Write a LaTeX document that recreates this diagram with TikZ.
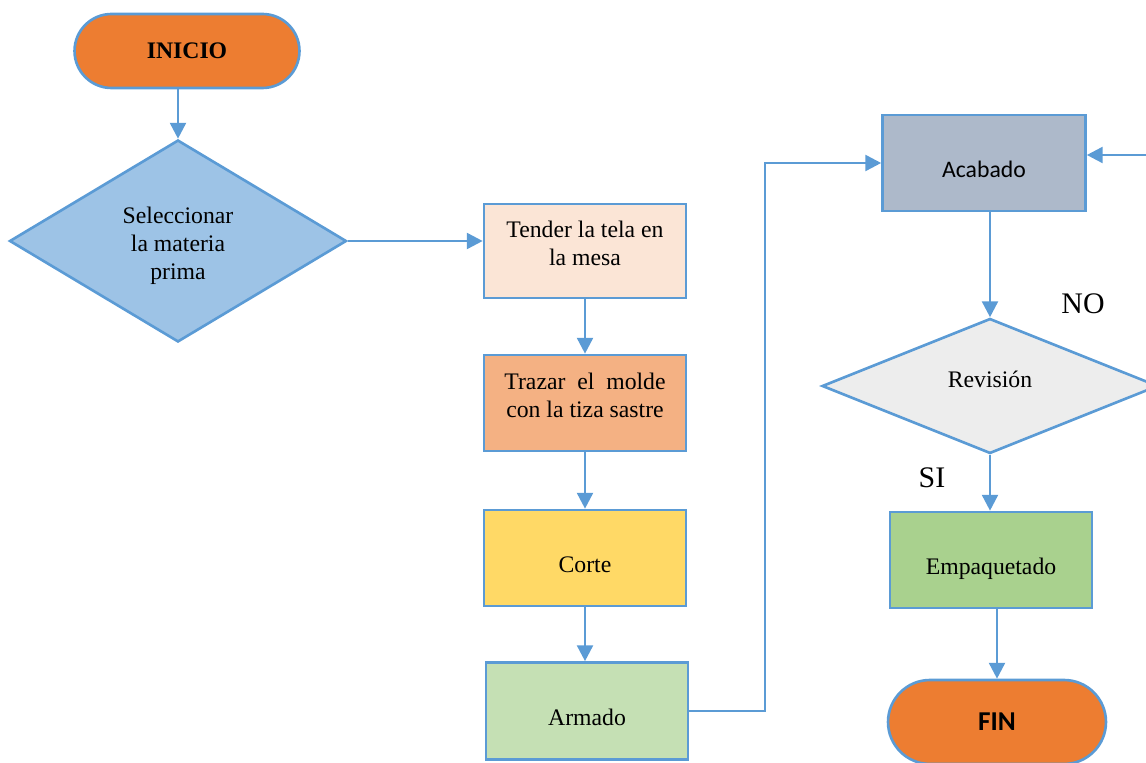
\documentclass[tikz,border=0pt]{standalone}
\usepackage{fontspec}
\setmainfont{Liberation Serif}
\newfontfamily\calibri{Carlito}
\usepackage{tikz}
\usetikzlibrary{arrows.meta, positioning, shapes.geometric, calc}
\definecolor{linea}{HTML}{5B9BD5}
\definecolor{naranja}{HTML}{ED7D31}
\definecolor{celeste}{HTML}{9DC3E6}
\definecolor{rosado}{HTML}{FBE5D6}
\definecolor{salmon}{HTML}{F4B183}
\definecolor{amarillo}{HTML}{FFD966}
\definecolor{verdeclaro}{HTML}{C5E0B4}
\definecolor{grisazul}{HTML}{ADB9CA}
\definecolor{grisclaro}{HTML}{EDEDED}
\definecolor{verde}{HTML}{A9D18E}
\tikzset{
  base/.style={draw=linea, line width=1.5pt, align=center, font=\fontsize{13.5}{16}\selectfont},
  terminal/.style={base, minimum width=4.5cm, minimum height=1.48cm, rounded corners=0.74cm, fill=naranja},
  proceso/.style={base, rectangle, minimum width=4.04cm, minimum height=1.92cm},
  decision/.style={base, diamond, inner sep=0pt},
  abajo/.style={text height=16pt, text depth=0pt},
  arriba/.style={text depth=9pt},
  flecha/.style={draw=linea, line width=1.5pt, -{Triangle[length=9pt, width=9pt]}},
  rotulo/.style={font=\fontsize{17}{20}\selectfont}
}

\begin{document}
\begin{tikzpicture}[x=0.02cm, y=-0.02cm]
          \useasboundingbox (0,0) rectangle (1146,763);
          \clip (0,0) rectangle (1146,763);
          % terminales
          \node[terminal] (inicio) at (187,51) {\textbf{INICIO}};
          \node[terminal, minimum width=4.36cm, minimum height=1.68cm, rounded corners=0.84cm,
                font=\calibri\fontsize{15.5}{18}\selectfont] (fin) at (997,722) {\textbf{FIN}};
          % decisiones
          \node[decision, fill=celeste, minimum width=6.74cm, minimum height=4.04cm, text height=47pt] (sel) at (178,241)
               {Seleccionar\\ la materia\\ prima};
          \node[decision, fill=grisclaro, minimum width=6.72cm, minimum height=2.7cm, text depth=8pt] (rev) at (990,386) {Revisión};
          % procesos
          \node[proceso, arriba, fill=rosado, minimum height=1.88cm] (tender) at (585,251) {Tender la tela en\\ la mesa};
          \node[proceso, arriba, fill=salmon] (trazar) at (585,403) {Trazar\ \ el\ \ molde\\ con la tiza sastre};
          \node[proceso, abajo, fill=amarillo] (corte) at (585,558) {Corte};
          \node[proceso, abajo, fill=verdeclaro, minimum height=1.94cm] (armado) at (587,711) {Armado};
          \node[proceso, abajo, fill=grisazul, minimum width=4.06cm, font=\calibri\fontsize{13.5}{16}\selectfont] (acabado) at (984,163) {Acabado};
          \node[proceso, abajo, fill=verde] (empaq) at (991,560) {Empaquetado};
          % rotulos
          \node[rotulo] (no) at (1083,304) {NO};
          \node[rotulo] (si) at (932,478) {SI};
          % conexiones
          \coordinate (codo) at (765,440);
          \coordinate (vuelta) at (1175,155);
          \draw[flecha] (inicio.south -| sel.north) -- (sel.north);
          \draw[flecha] (sel.east) -- (tender.west |- sel.east);
          \draw[flecha] (tender) -- (trazar);
          \draw[flecha] (trazar) -- (corte);
          \draw[flecha] (corte) -- (armado.north -| corte.south);
          \draw[flecha] (armado.east) -| (codo) |- (acabado.west);
          \draw[flecha] (acabado.south -| rev.north) -- (rev.north);
          \draw[flecha] (rev.south) -- (empaq.north -| rev.south);
          \draw[flecha] (empaq.south -| fin.north) -- (fin.north);
          \draw[flecha] (rev.east) -| (vuelta) -- (acabado.east |- vuelta);
\end{tikzpicture}
\end{document}
